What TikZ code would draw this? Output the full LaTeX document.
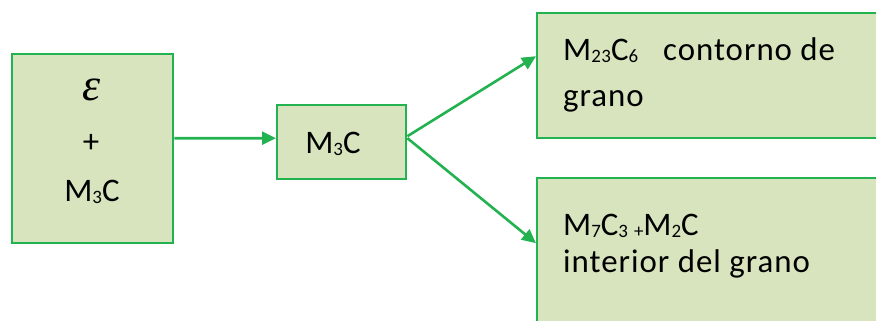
\documentclass[tikz,border=0pt]{standalone}
\usepackage{fontspec}
\setmainfont{Carlito}[LetterSpace=3]
\newfontfamily\greekfont{Liberation Serif}
\usetikzlibrary{arrows.meta}
\definecolor{boxfill}{RGB}{216,228,190}
\definecolor{boxline}{RGB}{35,178,80}
% lowered small figures, as in chemical formulas
\newcommand\sbs[1]{\raisebox{-0.07em}{\fontsize{19}{19}\selectfont #1}}
\begin{document}
\begin{tikzpicture}[x=1bp,y=-1bp,
  box/.style={draw=boxline, fill=boxfill, line width=2.4bp, rectangle,
    inner sep=0pt, anchor=north west},
  lbl/.style={inner sep=0pt, font=\fontsize{33}{40}\selectfont, text=black},
  arr/.style={draw=boxline, line width=2.6bp,
    -{Triangle[length=14bp,width=13bp]}}]
\useasboundingbox (0,0) rectangle (876,320);
\clip (0,0) rectangle (876,320);
% boxes
\node[box, minimum width=161bp, minimum height=189bp] (src) at (11,53) {};
\node[box, minimum width=129bp, minimum height=74bp] (mid) at (276,104) {};
\node[box, minimum width=360bp, minimum height=125bp] (top) at (536,12) {};
\node[box, minimum width=360bp, minimum height=160bp] (bot) at (536,177) {};
% texts
\node[lbl, anchor=base] (eps) at (92,100) {\fontsize{46}{46}\greekfont\itshape ε};
\node[lbl] (plus) at (91,143) {+};
\node[lbl, anchor=base] (srcm) at (92,201) {M\sbs{3}C};
\node[lbl, anchor=base] (midm) at (333,153) {M\sbs{3}C};
\node[lbl, anchor=base west] (t1) at (563,60) {M\sbs{23}C\sbs{6}\hspace{25bp}contorno de};
\node[lbl, anchor=base west] (t2) at (563,106) {grano};
\node[lbl, anchor=base west] (b1) at (563,235) {M\sbs{7}C\sbs{3}\hspace{6bp}\sbs{+}M\sbs{2}C};
\node[lbl, anchor=base west] (b2) at (563,272) {interior del grano};
% connectors
\draw[arr] ([yshift=10.5bp]src.east) -- ([yshift=4bp]mid.west);
\draw[arr] ([yshift=6bp]mid.east) -- ([yshift=19.5bp]top.west);
\draw[arr] ([yshift=4bp]mid.east) -- ([yshift=15bp]bot.west);
\end{tikzpicture}
\end{document}
